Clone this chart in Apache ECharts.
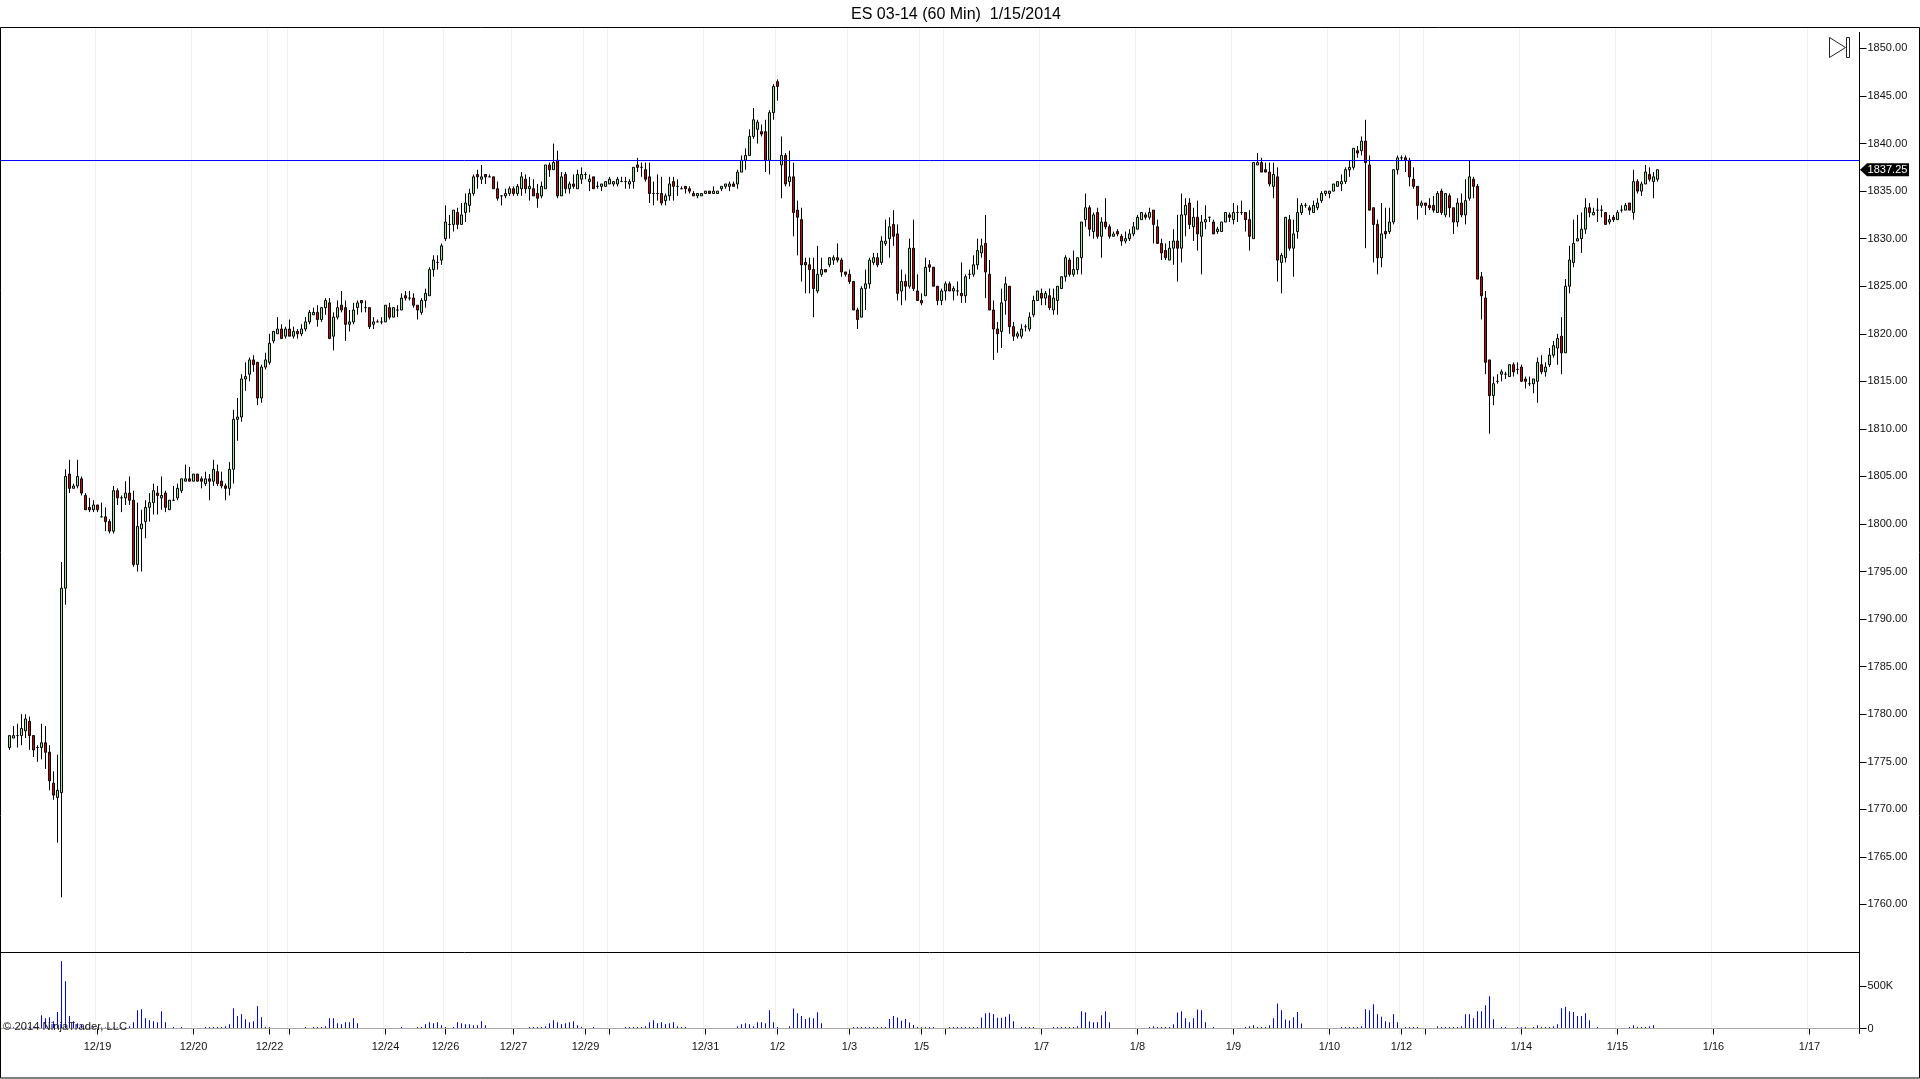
<!DOCTYPE html>
<html>
<head>
<meta charset="utf-8">
<script src="https://cdn.jsdelivr.net/npm/echarts@6/dist/echarts.min.js"></script>
<style>
  body { margin: 0; padding: 0; background: #fff; overflow: hidden; }
  #chart { width: 1920px; height: 1079px; }
</style>
</head>
<body>
<div id="chart"></div>
<script>
const opens = [
  1776.5,1777.5,1777.75,1777.75,1778.25,1779.25,1777.75,1776.5,1776.5,1777,
  1776,1772.75,1771.25,1771.75,1793.25,1805.25,1803.75,1804,1804.75,1803,
  1801.75,1801.5,1802,1800.75,1800.75,1800.25,1799.25,1803.5,1802.75,1802.75,
  1803.25,1802.5,1795.75,1799.5,1800.25,1801.75,1802.25,1803.25,1802.75,1803.25,
  1801.5,1802.5,1802.75,1803.5,1804.5,1804.75,1804.5,1805.25,1804.75,1804.25,
  1804.75,1804.5,1805.5,1804.5,1804,1803.75,1805.75,1811,1811.25,1815.25,
  1815.75,1817.25,1817,1813.25,1816.5,1817,1819.25,1820,1820.5,1819.75,
  1820.5,1819.75,1820.25,1820,1820.5,1821.25,1822,1822.25,1821.5,1822.75,
  1823.25,1819.75,1821.75,1823,1822.75,1821,1821.25,1822.75,1823.5,1822.75,
  1822.75,1821,1821.25,1821.25,1821.25,1822.75,1821.75,1822.5,1822.5,1824,
  1823.75,1823.75,1823,1822.25,1823.5,1824,1826.75,1827.5,1827.75,1830,
  1831.5,1831.5,1832.75,1831.5,1832.75,1833.5,1834.75,1836.75,1836.25,1836.75,
  1836.5,1836.5,1835.25,1834.5,1834.5,1834.75,1835.25,1834.75,1835.25,1836.25,
  1835.25,1835.25,1834.75,1834.5,1835.25,1837.75,1837.25,1838.25,1834.5,1836.75,
  1835.25,1835.75,1835.25,1836.25,1836.75,1836,1836.5,1835.5,1835.5,1835.5,
  1835.75,1835.75,1835.75,1836,1836,1835.75,1836,1837.75,1837.5,1837.25,
  1836.5,1834.75,1834.75,1834.75,1834,1834.5,1836,1835.5,1835.25,1835.5,
  1835.25,1834.75,1834.5,1834.5,1834.75,1835,1834.75,1834.75,1835.25,1835.5,
  1835.5,1835.75,1835.75,1837,1838.25,1838.75,1840.75,1841.5,1841.25,1841.25,
  1838.25,1843.25,1846.5,1837.75,1838.75,1836,1836.5,1833,1832,1827.5,
  1827.25,1826.75,1824.5,1826.25,1826.75,1827.25,1827.75,1828,1827.75,1826.5,
  1826.25,1825.5,1822.5,1821.75,1824.75,1825.25,1827.5,1828,1827.5,1829.5,
  1830,1831.5,1830.5,1824.5,1825.5,1825,1829,1824.5,1823.5,1824,
  1827.25,1827,1825,1823.5,1824.5,1825.25,1824.5,1824.5,1824.25,1824,
  1826.25,1826.25,1827.25,1828.5,1829.5,1826.25,1822.5,1820.5,1820.25,1823.5,
  1825,1820.75,1819.75,1819.75,1820.75,1820.5,1822,1823.5,1824.25,1823.75,
  1824,1822.5,1823.5,1824.75,1826,1827.75,1826.25,1826.75,1828,1832,
  1833.25,1830.75,1832.75,1830.25,1831.75,1831.25,1830.25,1830.75,1830.25,1829.75,
  1830,1830.5,1831,1832,1832.5,1832.25,1833,1831.25,1829.5,1828.75,
  1827.75,1829,1829.75,1829,1832.5,1833.75,1831.25,1832.25,1830.25,1831.75,
  1832.25,1831.75,1830.75,1830.75,1831.75,1832.5,1832,1832.75,1832.75,1832.75,
  1832,1830,1837.75,1838,1837.25,1837,1835.5,1836.5,1827.5,1828,
  1832,1829,1830.75,1832.75,1833.5,1833.25,1832.75,1833.25,1834,1834.75,
  1834.75,1835,1835.5,1835.75,1836,1837.25,1837.5,1839.25,1839.25,1840.25,
  1837.75,1833.25,1831.5,1828,1830.75,1830.75,1831.75,1837.25,1838.5,1838.5,
  1838.25,1836.25,1835.5,1833.5,1833.75,1833.5,1833.5,1832.75,1835,1832.5,
  1834.5,1833.25,1831.75,1833.75,1832.5,1834.25,1836.25,1835.5,1826,1823.75,
  1817.25,1813.5,1815,1815.75,1815.75,1815.5,1816.75,1816.25,1816.5,1815.25,
  1814.75,1814.75,1815,1816.75,1816,1816.75,1817.75,1818.5,1819.75,1818,
  1825,1827.5,1829.75,1830,1831,1833.25,1832.5,1833,1833,1832.75,
  1831.75,1832.25,1832,1833,1833,1833.75,1832.75,1836,1835,1835.75,
  1836.75,1836,1836.25
];
const closes = [
  1777.75,1777.75,1777.75,1778.5,1779.5,1777.75,1776.25,1776.5,1777,1776,
  1773,1771.5,1772,1793.25,1805,1803.75,1804,1805,1803.25,1801.5,
  1801.5,1802,1801.5,1800.75,1800.25,1799.25,1803.5,1802.75,1802.75,1803.25,
  1802.5,1795.75,1799.75,1800,1801.75,1802.25,1803.5,1803,1803,1801.75,
  1802.5,1802.5,1803.75,1804.75,1804.75,1804.5,1805.25,1804.5,1804.5,1804.75,
  1804.5,1805.75,1804.25,1804,1803.75,1805.75,1811,1811.25,1815.25,1815.5,
  1817.25,1816.75,1813.25,1816.5,1817.25,1819,1820.25,1820.5,1819.5,1820.5,
  1819.75,1820.25,1820,1820.5,1821.25,1822.25,1822.25,1821.5,1822.75,1823.5,
  1819.5,1821.75,1822.75,1822.5,1821,1821.25,1822.5,1823.25,1823.25,1822.75,
  1820.75,1821.25,1821.25,1821.25,1823,1821.75,1822.75,1822.5,1823.75,1823.75,
  1823.75,1823,1822.5,1823.5,1824.25,1826.75,1827.75,1827.5,1829.25,1831.75,
  1831.5,1833,1831.5,1832.5,1833.75,1834.75,1836.5,1836.5,1836.5,1836.5,
  1836.5,1835.25,1834.25,1834.5,1834.75,1835.25,1834.75,1835.5,1836.5,1835.25,
  1835.5,1834.5,1834.25,1835.5,1837.75,1837.25,1838,1834.5,1836.5,1835.25,
  1835.75,1835.5,1836.75,1836.75,1836.75,1836.25,1835.25,1835.5,1835.75,1836,
  1836.25,1836,1836.25,1836,1836,1836,1837.5,1837.5,1837.5,1836.25,
  1834.75,1834.75,1834.75,1833.75,1834.5,1835.75,1835.5,1835.5,1835.25,1835.25,
  1835,1834.5,1834.75,1834.75,1835,1834.75,1835,1835,1835.5,1835.75,
  1835.75,1835.5,1837,1838.25,1838.75,1840.75,1842.5,1842.25,1841,1838.25,
  1843.25,1846,1846,1838.75,1835.75,1836.5,1832.75,1832.25,1827.25,1827.25,
  1826.75,1824.75,1826.25,1826.75,1826.5,1828,1828,1827.75,1826.5,1826.25,
  1825.5,1822.5,1821.5,1824.75,1825.25,1827.75,1828,1827.25,1829.75,1829.75,
  1831.25,1830.25,1824.25,1825.5,1825,1829,1824.75,1823.5,1823.25,1827,
  1827,1825,1823.5,1824.5,1825.25,1824.5,1824.75,1824.5,1824,1826,
  1826.25,1827.25,1828.75,1829.25,1826.5,1822.5,1820.5,1820,1823.25,1825.25,
  1820.75,1819.75,1820,1820.5,1820.75,1821.75,1823.5,1824.5,1823.75,1824.25,
  1822.75,1823.75,1825,1826,1828,1826.25,1826.75,1828,1831.75,1833.25,
  1831,1832.5,1830.25,1831.75,1831.25,1830.25,1830.5,1830.5,1829.75,1830,
  1830.5,1831.25,1832.25,1832.75,1832.25,1832.75,1831.5,1829.5,1828.5,1828,
  1829,1829.75,1829,1832.5,1833.5,1831.5,1832.25,1830.5,1831.75,1832,
  1832.25,1830.5,1831,1831.75,1832.75,1832.25,1832.75,1832.75,1832.75,1832,
  1830.25,1838,1838,1837,1837,1835.75,1836.75,1827.75,1828.25,1832.25,
  1829,1830.5,1832.75,1833.5,1833.5,1833,1833.5,1833.75,1834.75,1835,
  1835,1835.75,1836,1836,1837.25,1837.5,1839.5,1839,1840.25,1838,
  1833,1831.5,1828,1830.5,1830.5,1831.75,1837.25,1838.5,1838.5,1838.25,
  1836.5,1835.5,1833.5,1833.75,1833.5,1833.25,1833,1834.75,1832.75,1834.75,
  1833.25,1831.75,1833.75,1832.5,1834,1836.5,1835.5,1825.75,1824,1817,
  1813.5,1814.75,1815,1816,1815.75,1816.75,1816,1816.25,1815,1815,
  1814.75,1815.25,1817,1816,1816.5,1817.75,1818.75,1819.5,1818,1825,
  1827.75,1829.5,1830,1831,1833.25,1832.75,1832.75,1833,1833,1831.5,
  1832,1832,1832.75,1833,1833.5,1833,1836,1835,1835.75,1837,
  1836.25,1836.5,1837.25
];
const lows = [
  1776.25,1777.5,1776.5,1776.75,1777.5,1776.25,1775.5,1775,1775.25,1774.25,
  1772,1771,1766.5,1760.75,1791.5,1803.25,1803.75,1803.75,1803,1801.5,
  1801.25,1801.25,1801.25,1800.75,1799.25,1799,1799,1802,1801.25,1802,
  1802,1795.5,1795,1795,1798.5,1800.25,1801,1801,1801.5,1801.25,
  1801.5,1802.5,1802.5,1803.25,1804.5,1804.5,1804.5,1804.5,1803.75,1804,
  1802.5,1804,1804,1803.75,1802.5,1803,1804.25,1808.75,1810.75,1814,
  1815,1816,1812.5,1812.75,1816.25,1816.75,1819,1820,1819.5,1819.5,
  1819.75,1819.5,1819.5,1819.75,1820.25,1821,1822,1820.75,1821.25,1822,
  1819.5,1818.25,1821.5,1822.25,1819.25,1820.25,1821,1822,1822.25,1822.25,
  1820.5,1820.5,1821.25,1821,1821.25,1821.5,1821.75,1821.75,1822.5,1823.5,
  1823.5,1822.75,1821.5,1822,1822.75,1824,1826,1826.75,1827.25,1829.75,
  1830,1830.75,1831,1831.5,1831.75,1832.75,1834.5,1835.25,1835.75,1835.75,
  1836.5,1835.25,1834,1833.5,1834.25,1834.5,1834.5,1834.5,1834.5,1834.75,
  1834,1834.5,1833.25,1834.25,1835.25,1836.5,1837.25,1834.25,1834.5,1834.75,
  1834.75,1835.25,1835.25,1835.75,1836.25,1835,1835.25,1835.25,1835,1835.5,
  1835.75,1835.5,1835.5,1836,1835.25,1835.25,1835.25,1837,1836.5,1836,
  1833.75,1833.5,1834,1833.5,1833.5,1834,1834,1834.5,1835.25,1834.75,
  1834.75,1834.5,1834.25,1834.5,1834.75,1834.75,1834.75,1834.75,1835,1835.25,
  1835,1835.5,1835.25,1837,1837.25,1838.75,1840.5,1840,1840.75,1837,
  1836.75,1842.5,1844.5,1834.25,1835.5,1835.5,1830.25,1828.25,1825.5,1824.25,
  1824.25,1821.75,1824.25,1826,1826.5,1827,1827.25,1827.5,1826,1826,
  1825.25,1822.5,1820.5,1821.75,1822.5,1824.75,1827.25,1827,1827.25,1829.25,
  1828,1829.25,1823.5,1823,1823.5,1824.75,1824.5,1823.5,1823,1824,
  1826.5,1825,1823,1823,1823.5,1824.5,1823.5,1824,1823.25,1823.25,
  1825.75,1826,1826.75,1828,1823.75,1822.5,1817.25,1818,1818.5,1822,
  1820,1819.25,1819.5,1819.5,1820.25,1820.25,1821.75,1823.5,1823,1823,
  1822.5,1822,1822,1824.75,1825.5,1826,1826,1826.25,1826.25,1831.25,
  1830.25,1830,1830,1828,1831,1830,1830.25,1830.25,1829.25,1829.5,
  1829.75,1830.25,1831,1832,1832,1832,1829.5,1829.5,1827.75,1827.75,
  1827.75,1827.25,1825.5,1827.5,1830.25,1831,1829.75,1828.75,1826.25,1831,
  1831.75,1830.5,1830.5,1830.75,1831.75,1831.75,1831.5,1831.75,1832.5,1830.75,
  1828.75,1830,1837.75,1837,1837,1835.5,1834.25,1825.5,1824.25,1827.5,
  1828.75,1826,1830,1832.5,1833.25,1832.5,1832.75,1833,1833.75,1834.5,
  1834.25,1835,1835.5,1835,1835.75,1836.5,1837.25,1838.5,1838.75,1829,
  1833,1827.5,1826.25,1827,1830,1830.5,1831.5,1836.75,1838.25,1837,
  1835.5,1835.25,1832,1833.25,1832.5,1833,1832.75,1832.75,1832.5,1832.25,
  1832.25,1830.5,1831.25,1832.25,1831.5,1834,1834.25,1825.75,1821.5,1815.75,
  1809.5,1812.5,1814.75,1815,1815.25,1815.5,1815.5,1815.75,1815,1814.25,
  1814.5,1813.75,1812.75,1815.75,1815.5,1816.5,1817.5,1816.75,1815.75,1818,
  1824.25,1827,1829.75,1828.5,1830.5,1832.25,1832.5,1831.75,1832.25,1831.5,
  1831.5,1831.75,1832,1832.75,1833,1833,1832,1834.75,1834.5,1835.75,
  1836,1834.25,1836
];
const highs = [
  1777.75,1778.75,1779,1780,1780,1779.75,1777.75,1776.75,1779,1778.75,
  1776.75,1774,1775.75,1796,1805.75,1806.75,1804.25,1806.75,1805,1803.25,
  1802.75,1802.5,1802,1802.25,1801.75,1800.5,1804,1803.75,1803,1804.5,
  1805,1803.5,1802.25,1801.5,1802.5,1803.25,1804.25,1804,1805,1803.5,
  1802.5,1804,1804.25,1804.75,1806.25,1806,1805.25,1805.25,1805,1805.5,
  1805.25,1806.75,1806.25,1805.5,1804.25,1806.5,1812,1813.25,1815.75,1817,
  1817.5,1817.75,1817,1816.75,1818,1820,1820.25,1821.75,1821,1820.75,
  1821.5,1820.75,1820.5,1821,1821.75,1822.5,1822.75,1823,1822.75,1823.75,
  1823.75,1822.25,1823.5,1824.5,1823.5,1822.5,1823.25,1823.5,1823.5,1823.5,
  1822.75,1821.75,1821.5,1821.75,1823,1823.25,1822.75,1823,1824.25,1824.5,
  1824.5,1824.25,1823,1823.75,1824.75,1827,1828.25,1828.25,1829.5,1833.5,
  1832.5,1833,1833.25,1833.75,1834.75,1835.25,1836.75,1837.25,1837.75,1836.75,
  1836.75,1836.5,1836,1834.5,1835.25,1835.5,1835.5,1835.75,1837,1836.75,
  1836.5,1836.25,1835.75,1836,1837.75,1838,1840,1839.25,1837,1837,
  1836,1836.75,1837.25,1837.5,1837,1836.75,1836.5,1836,1835.75,1836,
  1836.5,1836,1836.5,1836.5,1836.5,1836.25,1837.5,1838.5,1838,1838,
  1838,1836,1836.75,1836.5,1834.75,1836.5,1836.5,1836.25,1835.5,1835.5,
  1835.5,1835,1834.75,1834.75,1835,1835,1835.5,1835,1835.5,1835.75,
  1836,1836,1837.25,1838.75,1839.5,1841.5,1843.75,1842.5,1842,1842.5,
  1843.5,1846.25,1846.75,1840.75,1839,1839.25,1838,1834,1833.25,1828,
  1828,1828,1829.25,1828,1826.75,1828,1828.25,1829.5,1828,1826.5,
  1826.75,1825.5,1822.75,1825,1826.75,1828,1828.5,1828.5,1830.25,1832,
  1832.25,1833,1831.5,1826.75,1826.25,1830,1832,1826.25,1824.25,1828,
  1827.75,1827,1825,1824.75,1825.5,1825.5,1825,1825.5,1827.5,1826.25,
  1826.75,1828.25,1830,1830,1832.5,1827.75,1823.5,1821.25,1824.75,1826,
  1825,1821.25,1820.25,1821,1821,1822.25,1824,1824.5,1824.75,1824.5,
  1824.75,1824.75,1825,1826,1828.25,1828,1828.75,1828,1831.75,1834.75,
  1833.5,1832.75,1833.25,1832.25,1834.25,1831.5,1830.75,1831,1830.5,1830.75,
  1831,1831.75,1832.5,1832.75,1832.75,1833.25,1833,1832,1830,1829.5,
  1829.75,1831,1832.5,1834.75,1834.25,1834.25,1833.25,1834,1832.5,1833.5,
  1832.25,1832,1831.25,1831.75,1832.75,1832.75,1833.75,1833.5,1834,1832.75,
  1833,1838,1839,1838.5,1838,1838,1838,1837.5,1828.5,1832.25,
  1832.5,1832,1834.25,1833.75,1833.75,1833.5,1834,1834.25,1835,1835,
  1835,1835.75,1836,1836.75,1837.5,1838.25,1839.5,1839.75,1840.75,1842.5,
  1838.75,1833.25,1832,1833.75,1833.25,1833.25,1837.25,1838.75,1838.75,1838.75,
  1838.5,1837.5,1835.5,1834,1833.75,1834.25,1834.5,1835,1835.25,1834.75,
  1834.75,1833.25,1834.25,1834.75,1836.25,1838.25,1836.5,1835.75,1826.5,1824.5,
  1817.25,1815.5,1815.75,1816.25,1816,1816.75,1817,1817,1816.75,1815.5,
  1815.5,1815.25,1817.5,1817.75,1817,1818.5,1819.25,1820,1821.75,1825.75,
  1829.25,1832,1832.5,1832.75,1834.25,1833.75,1833.25,1834.25,1833.5,1832.75,
  1832.5,1832.5,1833,1833.5,1833.75,1833.75,1837.25,1836.25,1836,1837.75,
  1837.5,1837,1837.25
];
// contracts in thousands, one session per line
const volumes = [
  10,15,10,15,20,20,20,25,
  156,121,133,86,192,790,555,145,85,60,40,30,20,15,10,10,10,10,10,10,10,15,
  27,74,215,227,121,98,86,74,203,74,0,16,0,16,
  0,0,0,0,0,
  16,16,16,16,16,27,51,238,145,168,109,74,86,262,133,16,16,
  0,0,0,0,0,0,0,0,
  16,0,16,16,16,27,121,121,62,51,74,74,121,62,
  0,0,0,0,0,0,0,0,0,0,
  16,0,0,0,
  16,16,51,74,62,74,39,16,0,16,74,62,51,51,39,39,86,39,
  0,0,0,0,0,0,0,0,0,0,
  16,16,16,16,27,
  62,98,74,51,62,74,86,39,16,
  0,0,16,0,0,0,0,0,0,0,
  16,16,16,16,16,27,
  74,98,62,74,51,62,74,27,
  16,16,0,0,0,0,0,0,0,0,0,0,0,0,
  27,51,62,51,27,74,74,62,
  215,74,16,0,0,27,235,180,145,110,130,120,190,62,
  0,0,0,0,0,0,0,
  16,16,16,16,16,16,16,16,16,
  110,145,130,90,110,70,40,16,16,
  16,16,16,0,0,0,
  16,16,16,16,16,16,16,16,
  130,180,185,170,125,
  125,137,168,86,0,16,16,16,16,
  0,0,0,0,
  16,16,16,16,16,16,27,203,190,82,74,74,156,203,74,
  0,0,0,0,0,0,0,0,0,
  16,27,16,16,16,16,51,
  188,203,121,74,121,223,215,74,0,16,
  0,0,0,0,0,0,0,
  16,27,39,16,16,16,39,121,293,215,106,94,133,192,59,
  0,0,0,0,0,0,0,0,0,
  16,16,16,16,16,27,227,215,285,168,137,86,74,168,74,0,
  16,16,16,16,0,0,0,0,
  27,16,16,16,16,16,27,168,168,121,203,203,274,379,109,0,16,16,0,0,
  16,16,16,0,16,39,16,16,16,27,51,238,254,203,192,145,145,180,98,0,16,
  0,0,0,0,0,0,0,
  16,39,16,16,16,27,39,0
];
const priceTicks = [1760,1765,1770,1775,1780,1785,1790,1795,1800,1805,1810,1815,1820,1825,1830,1835,1840,1845,1850];
const volumeTicks = [0, 500];
const dayLabels = ['12/19','12/20','12/22','12/24','12/26','12/27','12/29','12/31','1/2','1/3','1/5','1/7','1/8','1/9','1/10','1/12','1/14','1/15','1/16','1/17'];
const dayBars = [22,46,65,94,109,126,144,174,192,210,228,258,282,306,330,348,378,402,426,450];
const weekBars = [70,150,234,354];
const levelPrice = 1838.25;
const lastPrice = 1837.25;

// two empty slots in front so the panels can start at the frame
const LEAD = 2;
const SLOTS = 465;

const labelBySlot = {};
dayBars.forEach((b, i) => { labelBySlot[b + LEAD] = dayLabels[i]; });
const tickSlots = new Set(dayBars.concat(weekBars).map((b) => b + LEAD));
const categories = Array.from({ length: SLOTS }, (_, i) => labelBySlot[i] || '');
const pad = new Array(LEAD).fill('-');

const candles = pad.map(() => ['-', '-', '-', '-']).concat(
  opens.map((o, i) => [o, closes[i], lows[i], highs[i]]),
);
const volumeData = pad.concat(volumes.map((v) => (v ? v * 1000 : '-')));

const FONT = '"Liberation Sans", Arial, sans-serif';
const isTick = (i) => tickSlots.has(i);
const gridLine = { show: true, interval: isTick, lineStyle: { color: '#efefef', width: 1 } };
const blackLine = { lineStyle: { color: '#000', width: 1 } };
const GRID_L = -0.5;
const GRID_W = 4 * SLOTS;
const yLabel = { fontFamily: FONT, fontSize: 11, color: '#111', margin: 8, padding: [4, 0, 0, 0] };

const chart = echarts.init(document.getElementById('chart'), null, { renderer: 'canvas' });
chart.setOption({
  animation: false,
  backgroundColor: '#fff',
  grid: [
    { left: GRID_L, width: GRID_W, top: 28, height: 924, outerBoundsMode: 'none' },
    { left: GRID_L, width: GRID_W, top: 952.5, height: 81, outerBoundsMode: 'none' },
  ],
  xAxis: [
    {
      type: 'category',
      gridIndex: 0,
      data: categories,
      axisLine: blackLine,
      axisTick: { show: false },
      axisLabel: { show: false },
      splitLine: gridLine,
    },
    {
      type: 'category',
      gridIndex: 1,
      data: categories,
      axisLine: blackLine,
      axisTick: { show: true, alignWithLabel: true, interval: isTick, length: 6, lineStyle: { color: '#000' } },
      axisLabel: {
        show: true,
        interval: (i) => !!labelBySlot[i],
        fontFamily: FONT,
        fontSize: 11,
        color: '#111',
        margin: 8,
      },
      splitLine: gridLine,
    },
  ],
  yAxis: [
    {
      type: 'value',
      gridIndex: 0,
      position: 'right',
      min: 1755,
      max: 1852.15,
      axisLine: { show: true, lineStyle: { color: '#000', width: 1 } },
      axisTick: { show: true, length: 7, customValues: priceTicks, lineStyle: { color: '#000' } },
      axisLabel: { ...yLabel, customValues: priceTicks, formatter: (v) => v.toFixed(2) },
      splitLine: { show: false },
    },
    {
      type: 'value',
      gridIndex: 1,
      position: 'right',
      min: -59000,
      max: 892000,
      axisLine: { show: true, lineStyle: { color: '#000', width: 1 } },
      axisTick: { show: true, length: 7, customValues: volumeTicks.map((v) => v * 1000), lineStyle: { color: '#000' } },
      axisLabel: {
        ...yLabel,
        customValues: volumeTicks.map((v) => v * 1000),
        formatter: (v) => (v ? v / 1000 + 'K' : '0'),
      },
      splitLine: { show: false },
    },
  ],
  series: [
    {
      type: 'candlestick',
      xAxisIndex: 0,
      yAxisIndex: 0,
      data: candles,
      barWidth: 2,
      silent: true,
      itemStyle: {
        color: '#90ee90',
        color0: '#d00000',
        borderColor: '#000',
        borderColor0: '#000',
        borderColorDoji: '#000',
        borderWidth: 1,
      },
      markLine: {
        silent: true,
        symbol: 'none',
        animation: false,
        label: { show: false },
        lineStyle: { color: '#0000ff', width: 1, type: 'solid' },
        data: [{ yAxis: levelPrice }],
      },
      markPoint: {
        silent: true,
        animation: false,
        symbol: 'path://M0 6.5L7 0H49V13H7Z',
        symbolSize: [49, 13],
        symbolOffset: [27, 0],
        itemStyle: { color: '#000' },
        label: {
          show: true,
          formatter: lastPrice.toFixed(2),
          color: '#fff',
          fontFamily: FONT,
          fontSize: 11,
          position: 'inside',
          offset: [3, 0],
        },
        data: [{ coord: [SLOTS - 1, lastPrice] }],
      },
    },
    {
      type: 'bar',
      xAxisIndex: 1,
      yAxisIndex: 1,
      data: volumeData,
      barWidth: 1,
      silent: true,
      itemStyle: { color: '#0000ff' },
      markLine: {
        silent: true,
        symbol: 'none',
        animation: false,
        label: { show: false },
        lineStyle: { color: '#a9a9a9', width: 1, type: 'solid' },
        data: [{ yAxis: 0 }],
      },
    },
  ],
  graphic: [
    {
      type: 'text',
      silent: true,
      x: 956,
      y: 15,
      style: {
        text: 'ES 03-14 (60 Min)  1/15/2014',
        fontFamily: FONT,
        fontSize: 16,
        fill: '#000',
        align: 'center',
        verticalAlign: 'middle',
      },
    },
    {
      type: 'rect',
      silent: true,
      z: 50,
      shape: { x: 1858, y: 28, width: 3, height: 4 },
      style: { fill: '#fff' },
    },
    {
      type: 'rect',
      silent: true,
      z: 50,
      shape: { x: 0.5, y: 27.5, width: 1919, height: 1050.5 },
      style: { fill: 'transparent', stroke: '#000', lineWidth: 1 },
    },
    {
      type: 'polygon',
      silent: true,
      z: 50,
      shape: { points: [[1829.5, 37.5], [1845.5, 47.5], [1829.5, 57.5]] },
      style: { fill: '#fff', stroke: '#222', lineWidth: 1 },
    },
    {
      type: 'rect',
      silent: true,
      z: 50,
      shape: { x: 1846.5, y: 37.5, width: 3, height: 20 },
      style: { fill: '#fff', stroke: '#222', lineWidth: 1 },
    },
    {
      type: 'text',
      silent: true,
      z: 50,
      x: 3,
      y: 1021,
      style: { text: '\u00a9 2014 NinjaTrader, LLC', fontFamily: FONT, fontSize: 11.25, fill: '#222' },
    },
  ],
});
</script>
</body>
</html>
